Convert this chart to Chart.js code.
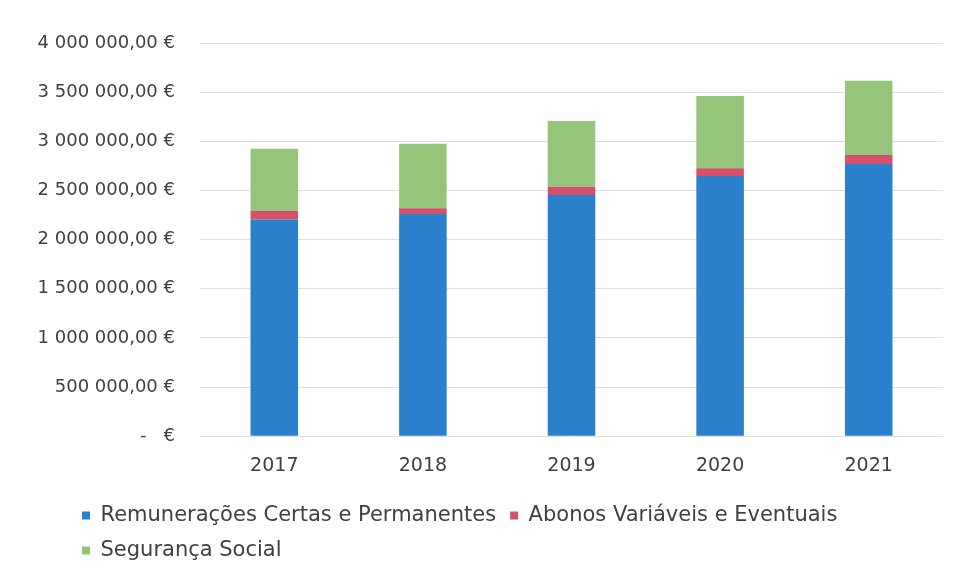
<!DOCTYPE html>
<html>
<head>
<meta charset="utf-8">
<script src="https://cdn.jsdelivr.net/npm/chart.js@4"></script>
<style>
  html, body { margin: 0; padding: 0; background: #fff; }
  #wrap { width: 960px; height: 580px; }
</style>
</head>
<body>
<div id="wrap"><canvas id="grafico" width="960" height="580"></canvas></div>
<script>
// dados
const anos = ['2017', '2018', '2019', '2020', '2021'];
const remuneracoes = [2205000, 2260000, 2453000, 2646000, 2768000];
const abonos = [85000, 58000, 84000, 79000, 92000];
const segurancaSocial = [634000, 657000, 669000, 736000, 756000];
const yTicks = [0, 500000, 1000000, 1500000, 2000000, 2500000, 3000000, 3500000, 4000000];
const yTickLabels = ['-   €', '500 000,00 €', '1 000 000,00 €', '1 500 000,00 €', '2 000 000,00 €',
                     '2 500 000,00 €', '3 000 000,00 €', '3 500 000,00 €', '4 000 000,00 €'];

const fonte = '"DejaVu Sans", sans-serif';

// mover a legenda para a esquerda, como no original
const posLegenda = {
    id: 'posLegenda',
    afterLayout(chart) {
        const lg = chart.legend;
        const h = lg.bottom - lg.top;
        lg.left = 68;
        lg.top = 491;
        lg.bottom = lg.top + h;
    }
};

const ctx = document.getElementById('grafico').getContext('2d');
new Chart(ctx, {
    type: 'bar',
    data: {
        labels: anos,
        datasets: [
            {
                label: 'Remunerações Certas e Permanentes',
                data: remuneracoes,
                backgroundColor: '#2b80cc'
            },
            {
                label: 'Abonos Variáveis e Eventuais',
                data: abonos,
                backgroundColor: '#d6506c'
            },
            {
                label: 'Segurança Social',
                data: segurancaSocial,
                backgroundColor: '#95c57a'
            }
        ]
    },
    options: {
        responsive: false,
        animation: false,
        layout: {
            padding: { top: 43, right: 17, left: 0, bottom: 13 }
        },
        plugins: {
            title: { display: false },
            tooltip: { enabled: false },
            legend: {
                display: true,
                position: 'bottom',
                align: 'start',
                labels: {
                    boxWidth: 8,
                    boxHeight: 8,
                    padding: 14,
                    color: '#404040',
                    font: { family: fonte, size: 21 }
                }
            }
        },
        scales: {
            x: {
                stacked: true,
                grid: { display: false },
                border: { display: false },
                ticks: {
                    color: '#404040',
                    padding: 10,
                    font: { family: fonte, size: 19 }
                }
            },
            y: {
                stacked: true,
                min: 0,
                max: 4000000,
                afterFit(scale) { scale.width = 200; },
                afterBuildTicks(scale) {
                    scale.ticks = yTicks.map(v => ({ value: v }));
                },
                grid: { color: '#e0e0e0', lineWidth: 1, drawTicks: false },
                border: { display: false },
                ticks: {
                    color: '#404040',
                    padding: 25,
                    font: { family: fonte, size: 18 },
                    callback: function (value, i) { return yTickLabels[i]; }
                }
            }
        },
        datasets: {
            bar: { barPercentage: 0.32, categoryPercentage: 1 }
        }
    },
    plugins: [posLegenda]
});
</script>
</body>
</html>
